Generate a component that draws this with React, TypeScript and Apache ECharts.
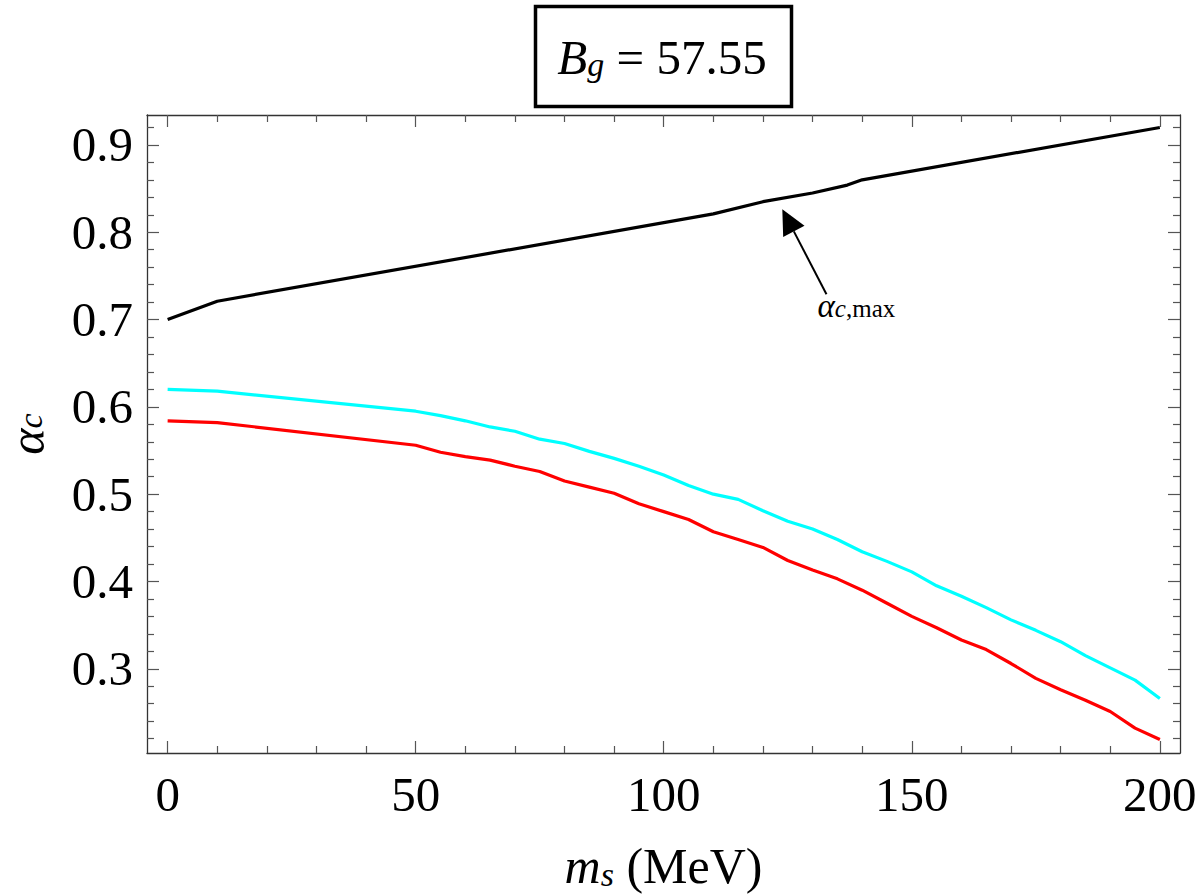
import React, { useEffect, useRef } from "react";
import * as echarts from "echarts";

// ---- data ----
const xMajorTicks = [0, 50, 100, 150, 200];
const xMinorTicks = [10, 20, 30, 40, 60, 70, 80, 90, 110, 120, 130, 140, 160, 170, 180, 190];
const yMajorTicks = [0.3, 0.4, 0.5, 0.6, 0.7, 0.8, 0.9];
const yMinorTicks = [0.22, 0.24, 0.26, 0.28, 0.32, 0.34, 0.36, 0.38, 0.42, 0.44, 0.46, 0.48, 0.52, 0.54, 0.56, 0.58, 0.62, 0.64, 0.66, 0.68, 0.72, 0.74, 0.76, 0.78, 0.82, 0.84, 0.86, 0.88, 0.92];

const maxMs = [0, 10, 110, 120, 130, 137, 140, 200];
const maxAlpha = [0.7, 0.721, 0.821, 0.835, 0.845, 0.854, 0.86, 0.92];

const curveMs = [0, 10, 50, 55, 60, 65, 70, 75, 80, 85, 90, 95, 100, 105, 110, 115, 120, 125, 130, 135, 140, 145, 150, 155, 160, 165, 170, 175, 180, 185, 190, 195, 200];
const cyanAlpha = [0.62, 0.618, 0.595, 0.59, 0.584, 0.577, 0.572, 0.563, 0.558, 0.549, 0.541, 0.532, 0.522, 0.51, 0.5, 0.494, 0.481, 0.469, 0.46, 0.448, 0.434, 0.423, 0.411, 0.395, 0.383, 0.37, 0.356, 0.344, 0.331, 0.315, 0.301, 0.287, 0.266];
const redAlpha = [0.584, 0.582, 0.556, 0.548, 0.543, 0.539, 0.532, 0.526, 0.515, 0.508, 0.501, 0.489, 0.48, 0.471, 0.457, 0.448, 0.439, 0.424, 0.413, 0.403, 0.39, 0.375, 0.36, 0.347, 0.333, 0.322, 0.306, 0.289, 0.276, 0.264, 0.251, 0.232, 0.219];

const X_MIN = -4.16;
const X_MAX = 204.06;
const Y_MIN = 0.2035;
const Y_MAX = 0.9343;

// annotation anchors (data units)
const arrowTip = [123.9, 0.8264];
const arrowTail = [132.8, 0.729];
const annoLabelPos = [131.0, 0.715];

const FONT = "Liberation Serif";

function zip(xs: number[], ys: number[]) {
  return xs.map((x, i) => [x, ys[i]]);
}

function makeX(position: "top" | "bottom", major: boolean, withLabels: boolean, withLine: boolean, extra: any = {}) {
  return {
    type: "value",
    min: X_MIN,
    max: X_MAX,
    position,
    gridIndex: 0,
    axisLine: { show: withLine, onZero: false, lineStyle: { color: "#333", width: 1.3 } },
    axisTick: {
      show: true,
      inside: true,
      length: major ? 12 : 7,
      customValues: major ? xMajorTicks : xMinorTicks,
      lineStyle: { color: "#555", width: 1.2 },
    },
    axisLabel: withLabels
      ? { show: true, customValues: xMajorTicks, fontSize: 49, fontFamily: FONT, color: "#000", margin: 17, formatter: (v: number) => String(Math.round(v)) }
      : { show: false },
    splitLine: { show: false },
    ...extra,
  };
}

function makeY(position: "left" | "right", major: boolean, withLabels: boolean, withLine: boolean, extra: any = {}) {
  return {
    type: "value",
    min: Y_MIN,
    max: Y_MAX,
    position,
    gridIndex: 0,
    axisLine: { show: withLine, onZero: false, lineStyle: { color: "#333", width: 1.3 } },
    axisTick: {
      show: true,
      inside: true,
      length: major ? 12 : 7,
      customValues: major ? yMajorTicks : yMinorTicks,
      lineStyle: { color: "#555", width: 1.2 },
    },
    axisLabel: withLabels
      ? { show: true, customValues: yMajorTicks, fontSize: 49, fontFamily: FONT, color: "#000", margin: 14, formatter: (v: number) => v.toFixed(1) }
      : { show: false },
    splitLine: { show: false },
    ...extra,
  };
}

export default function App() {
  const ref = useRef<HTMLDivElement>(null);

  useEffect(() => {
    if (!ref.current) return;
    const chart = echarts.init(ref.current, null, { renderer: "svg" });

    const option: any = {
      animation: false,
      backgroundColor: "#fff",
      grid: { left: 147, right: 19, top: 115, bottom: 142, containLabel: false, outerBoundsMode: "none" },
      xAxis: [
        makeX("bottom", true, true, true, {
          name: "{m|m}{s|s}{n| (MeV)}",
          nameLocation: "middle",
          nameGap: 88,
          nameTextStyle: {
            fontFamily: FONT,
            color: "#000",
            rich: {
              m: { fontSize: 50, fontStyle: "italic", fontFamily: FONT, lineHeight: 50 },
              s: { fontSize: 34, fontStyle: "italic", fontFamily: FONT, verticalAlign: "bottom", lineHeight: 20 },
              n: { fontSize: 50, fontFamily: FONT, lineHeight: 50 },
            },
          },
        }),
        makeX("bottom", false, false, false),
        makeX("top", true, false, true),
        makeX("top", false, false, false),
      ],
      yAxis: [
        makeY("left", true, true, true, {
          name: "{a|α}{c|c}",
          nameLocation: "middle",
          nameGap: 100,
          nameRotate: 90,
          nameTextStyle: {
            fontFamily: FONT,
            color: "#000",
            rich: {
              a: { fontSize: 50, fontStyle: "italic", fontFamily: FONT, lineHeight: 40 },
              c: { fontSize: 34, fontStyle: "italic", fontFamily: FONT, verticalAlign: "bottom", lineHeight: 18 },
            },
          },
        }),
        makeY("left", false, false, false),
        makeY("right", true, false, true),
        makeY("right", false, false, false),
      ],
      series: [
        {
          name: "alpha_c,max",
          type: "line",
          xAxisIndex: 0,
          yAxisIndex: 0,
          data: zip(maxMs, maxAlpha),
          showSymbol: false,
          lineStyle: { color: "#000", width: 3.2 },
        },
        {
          name: "cyan",
          type: "line",
          xAxisIndex: 0,
          yAxisIndex: 0,
          data: zip(curveMs, cyanAlpha),
          showSymbol: false,
          lineStyle: { color: "#00ffff", width: 3.2 },
        },
        {
          name: "red",
          type: "line",
          xAxisIndex: 0,
          yAxisIndex: 0,
          data: zip(curveMs, redAlpha),
          showSymbol: false,
          lineStyle: { color: "#ff0000", width: 3.2 },
        },
      ],
    };

    chart.setOption(option);

    const toPx = (p: number[]) => chart.convertToPixel({ xAxisIndex: 0, yAxisIndex: 0 }, p) as number[];
    const tip = toPx(arrowTip);
    const tail = toPx(arrowTail);
    const lab = toPx(annoLabelPos);
    const dx = tip[0] - tail[0];
    const dy = tip[1] - tail[1];
    const len = Math.sqrt(dx * dx + dy * dy);
    const ux = dx / len;
    const uy = dy / len;
    const headLen = 25;
    const halfW = 12;
    const bx = tip[0] - ux * headLen;
    const by = tip[1] - uy * headLen;
    const px = -uy;
    const py = ux;

    chart.setOption({
      graphic: [
        {
          type: "rect",
          shape: { x: 535.5, y: 6.5, width: 256, height: 100 },
          style: { fill: "#fff", stroke: "#000", lineWidth: 3.5 },
          z: 10,
        },
        {
          type: "text",
          x: 662,
          y: 57,
          z: 11,
          style: {
            text: "{b|B}{g|g}{t| = 57.55}",
            align: "center",
            verticalAlign: "middle",
            fill: "#000",
            rich: {
              b: { fontSize: 49, fontStyle: "italic", fontFamily: FONT, lineHeight: 48 },
              g: { fontSize: 34, fontStyle: "italic", fontFamily: FONT, verticalAlign: "bottom", lineHeight: 18 },
              t: { fontSize: 49, fontFamily: FONT, lineHeight: 48 },
            },
          },
        },
        {
          type: "line",
          z: 12,
          shape: { x1: tail[0], y1: tail[1], x2: bx, y2: by },
          style: { stroke: "#000", lineWidth: 2 },
        },
        {
          type: "polygon",
          z: 12,
          shape: {
            points: [
              [tip[0], tip[1]],
              [bx + px * halfW, by + py * halfW],
              [bx - px * halfW, by - py * halfW],
            ],
          },
          style: { fill: "#000" },
        },
        {
          type: "text",
          x: lab[0],
          y: lab[1],
          z: 12,
          style: {
            text: "{a|α}{c|c}{m|,max}",
            align: "left",
            verticalAlign: "middle",
            fill: "#000",
            rich: {
              a: { fontSize: 33, fontStyle: "italic", fontFamily: FONT, lineHeight: 30 },
              c: { fontSize: 25, fontStyle: "italic", fontFamily: FONT, verticalAlign: "bottom", lineHeight: 14 },
              m: { fontSize: 25, fontFamily: FONT, verticalAlign: "bottom", lineHeight: 14 },
            },
          },
        },
      ],
    });

    return () => chart.dispose();
  }, []);

  return (
    <div
      ref={ref}
      style={{ position: "fixed", left: 0, top: 0, width: 1199, height: 895, background: "#fff" }}
    />
  );
}
